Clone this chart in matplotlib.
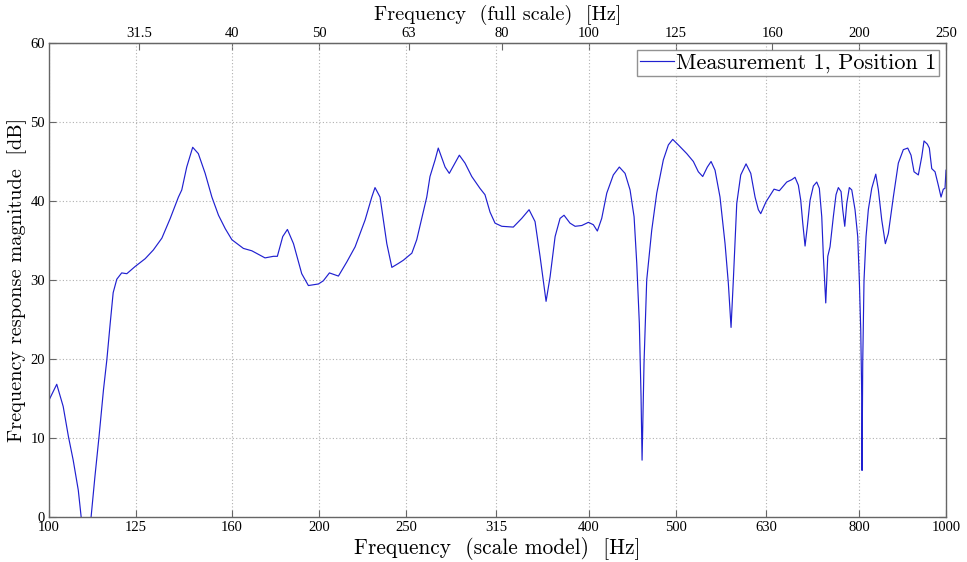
import matplotlib
matplotlib.use('Agg')
import matplotlib.pyplot as plt
import numpy as np

freq_hz = [100.0, 102.0, 103.7, 105.1, 106.4, 107.8, 108.6, 109.4, 110.5, 111.4,
           112.5, 113.7, 115.0, 116.0, 117.0, 117.9, 119.0, 120.5, 122.1, 124.7,
           128.0, 130.7, 133.6, 136.5, 139.4, 140.6, 142.4, 144.6, 146.7, 149.3,
           151.9, 154.5, 157.2, 159.9, 164.7, 168.3, 174.1, 177.9, 179.7, 182.2,
           184.4, 187.3, 191.3, 194.6, 199.7, 202.2, 205.4, 210.2, 214.8, 219.4,
           225.1, 229.0, 230.9, 233.9, 238.0, 241.1, 245.2, 248.3, 253.8, 257.0,
           263.7, 265.9, 269.4, 271.6, 276.4, 279.4, 283.5, 286.7, 290.9, 296.0,
           302.3, 306.2, 310.2, 314.2, 319.7, 329.3, 336.5, 342.9, 348.2, 352.7,
           358.2, 361.9, 366.6, 371.3, 375.1, 380.9, 385.9, 392.6, 399.3, 404.4,
           408.6, 413.2, 418.6, 425.7, 432.3, 438.7, 444.4, 449.0, 452.1, 455.1,
           457.1, 458.3, 460.6, 463.8, 469.8, 475.9, 484.0, 490.3, 495.8, 503.0,
           514.0, 522.8, 529.5, 535.5, 541.9, 547.1, 552.7, 559.8, 567.1, 571.9,
           575.9, 579.3, 584.4, 590.4, 598.5, 605.8, 612.5, 617.7, 621.5, 630.0,
           643.1, 651.9, 664.4, 673.0, 678.7, 684.5, 688.7, 692.3, 696.4, 700.5,
           705.4, 711.4, 717.6, 722.4, 726.9, 729.9, 734.4, 738.2, 742.5, 748.8,
           754.0, 758.5, 763.8, 767.1, 771.1, 775.1, 780.2, 785.1, 791.7, 797.2,
           800.5, 803.4, 805.5, 806.1, 807.5, 810.2, 814.4, 819.2, 826.4, 835.0,
           840.6, 847.9, 855.8, 862.4, 873.5, 884.8, 896.2, 906.4, 914.1, 921.2,
           931.4, 939.6, 945.1, 953.2, 958.1, 964.0, 972.2, 980.4, 987.3, 993.1,
           997.4, 1000.0]
level_db = [14.8, 16.8, 14.0, 10.2, 7.2, 3.4, 0.0, -3.0, -3.0, 0.0,
            5.1, 10.2, 16.1, 19.9, 24.5, 28.4, 30.1, 30.9, 30.8, 31.7,
            32.7, 33.8, 35.3, 37.8, 40.5, 41.4, 44.3, 46.8, 46.0, 43.5,
            40.5, 38.2, 36.5, 35.1, 34.0, 33.7, 32.8, 33.0, 33.0, 35.5,
            36.4, 34.6, 30.8, 29.3, 29.5, 29.9, 30.9, 30.5, 32.3, 34.2,
            37.6, 40.5, 41.7, 40.5, 34.6, 31.6, 32.1, 32.5, 33.4, 35.1,
            40.5, 43.1, 45.2, 46.7, 44.3, 43.5, 44.8, 45.8, 44.8, 43.1,
            41.6, 40.8, 38.6, 37.2, 36.8, 36.7, 37.8, 38.9, 37.4, 33.0,
            27.3, 30.4, 35.5, 37.8, 38.2, 37.2, 36.8, 36.9, 37.3, 37.0,
            36.2, 37.8, 41.0, 43.3, 44.3, 43.5, 41.4, 38.0, 32.1, 24.5,
            15.2, 7.2, 19.5, 30.0, 36.3, 41.0, 45.2, 47.1, 47.8, 47.1,
            46.0, 45.0, 43.7, 43.1, 44.3, 45.0, 43.9, 40.5, 34.6, 29.6,
            24.0, 30.0, 39.7, 43.3, 44.7, 43.5, 40.5, 38.9, 38.4, 39.9,
            41.5, 41.3, 42.4, 42.7, 43.0, 42.0, 40.1, 37.2, 34.3, 36.8,
            40.1, 41.9, 42.4, 41.6, 38.0, 33.0, 27.1, 33.0, 34.2, 38.0,
            40.8, 41.7, 41.2, 38.9, 36.8, 39.7, 41.7, 41.4, 38.9, 35.5,
            30.0, 23.7, 15.2, 5.9, 19.5, 30.0, 35.5, 38.9, 41.6, 43.4,
            41.4, 37.6, 34.6, 35.9, 40.5, 44.8, 46.5, 46.7, 45.8, 43.7,
            43.3, 45.6, 47.6, 47.2, 46.7, 44.1, 43.7, 42.0, 40.5, 41.5,
            41.6, 43.9]

x_ticks = [100, 125, 160, 200, 250, 315, 400, 500, 630, 800, 1000]
top_ticks = [31.5, 40, 50, 63, 80, 100, 125, 160, 200, 250]
y_ticks = [0, 10, 20, 30, 40, 50, 60]
scale_factor = 4  # scale model -> full scale

tick_font = 'Liberation Serif'
label_font = 'cmr10'
spine_col = '#666666'

fig = plt.figure(figsize=(9.67, 5.62), dpi=100)
ax = fig.add_axes([0.0507, 0.080, 0.9276, 0.8435])

ax.semilogx(freq_hz, level_db, color='#2020d0', linewidth=0.85,
            label='Measurement 1, Position 1')

ax.set_xlim(100, 1000)
ax.set_ylim(0, 60)
ax.set_xticks(x_ticks)
ax.set_xticklabels([str(t) for t in x_ticks])
ax.xaxis.set_minor_locator(matplotlib.ticker.NullLocator())
ax.set_yticks(y_ticks)

ax.grid(True, linestyle=(0, (1, 2)), color='#b0b0b0', linewidth=0.8)
ax.tick_params(direction='in', length=5, color=spine_col, labelsize=10.5,
               right=True, pad=3)
for lab in ax.get_xticklabels() + ax.get_yticklabels():
    lab.set_fontfamily(tick_font)
for s in ax.spines.values():
    s.set_color(spine_col)
    s.set_linewidth(1.0)

ax.set_xlabel('Frequency  (scale model)  [Hz]', fontfamily=label_font,
              fontsize=15.4, labelpad=2)
ax.set_ylabel('Frequency response magnitude  [dB]', fontfamily=label_font,
              fontsize=14.6, labelpad=2)

# top axis in full-scale frequency
top = ax.secondary_xaxis('top', functions=(lambda f: f / scale_factor,
                                           lambda f: f * scale_factor))
top.set_xticks(top_ticks)
top.set_xticklabels([('%g' % t) for t in top_ticks])
top.xaxis.set_minor_locator(matplotlib.ticker.NullLocator())
top.tick_params(direction='in', length=5, color=spine_col, labelsize=10.5, pad=2)
for lab in top.get_xticklabels():
    lab.set_fontfamily(tick_font)
top.spines['top'].set_color(spine_col)
top.set_xlabel('Frequency  (full scale)  [Hz]', fontfamily=label_font,
               fontsize=14.6, labelpad=5)

leg = ax.legend(loc='upper right', prop={'family': label_font, 'size': 16},
                frameon=True, fancybox=False, handlelength=1.5,
                handletextpad=0.1, borderpad=0.15, borderaxespad=0.3)
leg.get_frame().set_edgecolor('#777777')
leg.get_frame().set_linewidth(1.0)

fig.savefig('out.png', dpi=100)
